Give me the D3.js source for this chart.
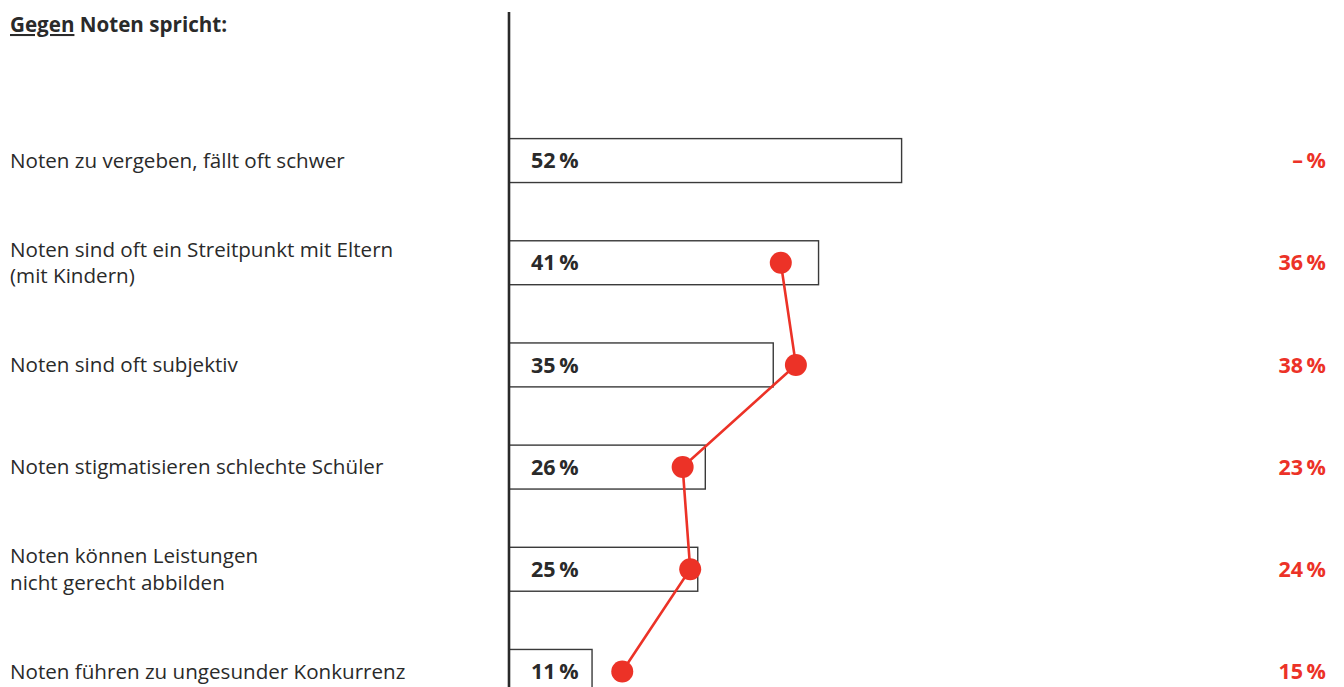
<!DOCTYPE html>
<html>
<head>
<meta charset="utf-8">
<script src="https://cdn.jsdelivr.net/npm/d3@7"></script>
<style>
  html, body { margin: 0; padding: 0; background: #fff; }
  svg { display: block; }
  text { font-family: "Open Sans", "Noto Sans", sans-serif; }
</style>
</head>
<body>
<svg id="chart" width="1344" height="687"></svg>
<script>
// Reasons against school grades, share of respondents (%)
const categories = [
  ["Noten zu vergeben, fällt oft schwer"],
  ["Noten sind oft ein Streitpunkt mit Eltern", "(mit Kindern)"],
  ["Noten sind oft subjektiv"],
  ["Noten stigmatisieren schlechte Schüler"],
  ["Noten können Leistungen", "nicht gerecht abbilden"],
  ["Noten führen zu ungesunder Konkurrenz"]
];
const barValues = [52, 41, 35, 26, 25, 11];        // current survey
const dotValues = [null, 36, 38, 23, 24, 15];      // comparison survey (no value for first item)

const titleUnderlined = "Gegen";
const titleRest = " Noten spricht:";

const W = 1344, H = 687;
const svg = d3.select("#chart");

const ink = "#2a2a2a";
const red = "#ec3227";

const x = d3.scaleLinear().domain([0, 100]).range([509, 1264]);
const y = d3.scaleBand()
  .domain(d3.range(categories.length))
  .range([110, 722])
  .paddingInner(0.57)
  .paddingOuter(0.28);

const rowCenter = i => y(i) + y.bandwidth() / 2;
const pct = v => v == null ? "\u2013\u2009%" : v + "\u2009%";

// Title
const title = svg.append("text")
  .attr("x", 10).attr("y", 32)
  .attr("font-size", 20.6).attr("font-weight", 700).attr("fill", ink);
title.append("tspan").attr("text-decoration", "underline").text(titleUnderlined);
title.append("tspan").text(titleRest);

// Category labels on the left
const labels = svg.append("g").selectAll("text")
  .data(categories)
  .join("text")
  .attr("x", 10)
  .attr("font-size", 20.6)
  .attr("fill", ink);
labels.each(function (lines, i) {
  const t = d3.select(this);
  const lh = 26.5;
  const start = rowCenter(i) - (lines.length - 1) * lh / 2;
  lines.forEach((line, k) => {
    t.append("tspan")
      .attr("x", 10)
      .attr("y", start + k * lh)
      .attr("dy", "0.35em")
      .text(line);
  });
});

// Bars (outlined)
svg.append("g").selectAll("rect")
  .data(barValues)
  .join("rect")
  .attr("x", x(0))
  .attr("y", (d, i) => y(i))
  .attr("width", d => x(d) - x(0))
  .attr("height", y.bandwidth())
  .attr("fill", "#fff")
  .attr("stroke", "#3a3a3a")
  .attr("stroke-width", 1.4);

// Bar value labels
svg.append("g").selectAll("text")
  .data(barValues)
  .join("text")
  .attr("x", 531)
  .attr("y", (d, i) => rowCenter(i))
  .attr("dy", "0.36em")
  .attr("font-size", 21.5)
  .attr("font-weight", 700)
  .attr("fill", ink)
  .text(d => pct(d));

// Vertical axis line
svg.append("line")
  .attr("x1", x(0)).attr("x2", x(0))
  .attr("y1", 12).attr("y2", H)
  .attr("stroke", ink)
  .attr("stroke-width", 2.6);

// Comparison line and dots
const pts = dotValues.map((v, i) => ({ v, i })).filter(d => d.v != null);
svg.append("path")
  .datum(pts)
  .attr("fill", "none")
  .attr("stroke", red)
  .attr("stroke-width", 2.6)
  .attr("d", d3.line().x(d => x(d.v)).y(d => rowCenter(d.i)));

svg.append("g").selectAll("circle")
  .data(pts)
  .join("circle")
  .attr("cx", d => x(d.v))
  .attr("cy", d => rowCenter(d.i))
  .attr("r", 11)
  .attr("fill", red);

// Comparison values on the right
svg.append("g").selectAll("text")
  .data(dotValues)
  .join("text")
  .attr("x", 1326)
  .attr("y", (d, i) => rowCenter(i))
  .attr("dy", "0.36em")
  .attr("text-anchor", "end")
  .attr("font-size", 21.5)
  .attr("font-weight", 700)
  .attr("fill", red)
  .text(d => pct(d));
</script>
</body>
</html>
